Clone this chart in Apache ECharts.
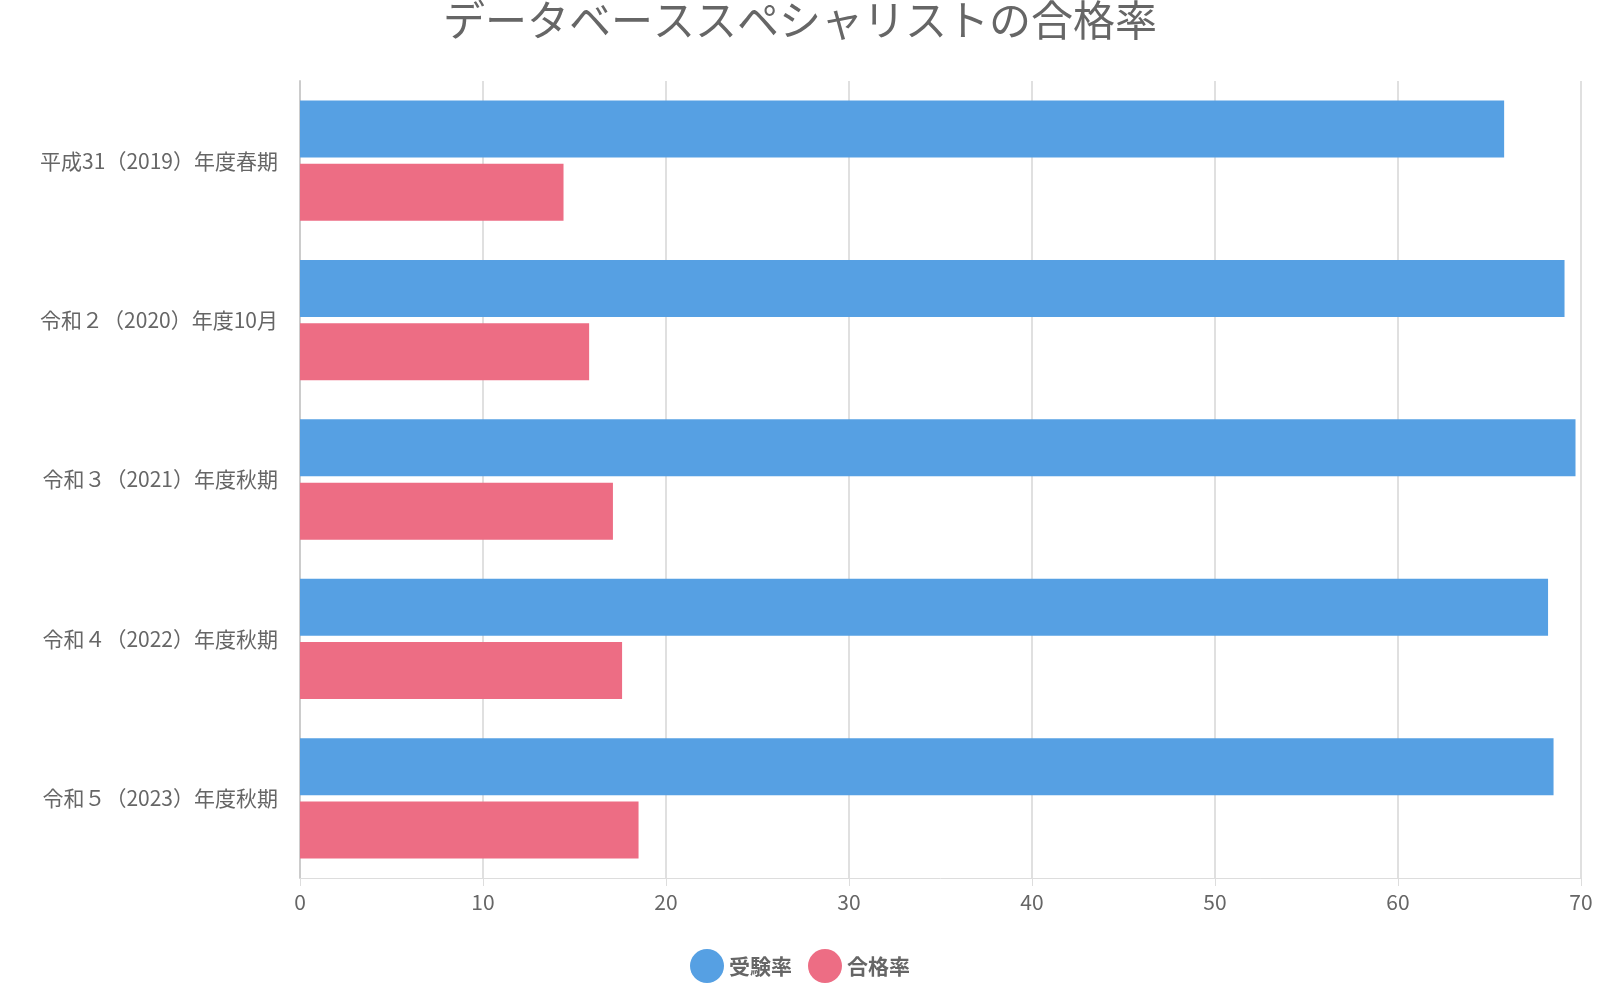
<!DOCTYPE html>
<html><head><meta charset="utf-8">
<script src="https://cdn.jsdelivr.net/npm/echarts@6/dist/echarts.min.js"></script>
<style>html,body{margin:0;background:#fff}#c{width:1600px;height:1000px}</style>
</head><body><div id="c"></div>
<script>
const categories = ['平成31（2019）年度春期','令和２（2020）年度10月','令和３（2021）年度秋期','令和４（2022）年度秋期','令和５（2023）年度秋期'];
const examRate = [65.8, 69.1, 69.7, 68.2, 68.5];
const passRate = [14.4, 15.8, 17.1, 17.6, 18.5];
const xTicks = {min: 0, max: 70, interval: 10};
const font = "'Noto Sans CJK JP', 'Noto Sans', sans-serif";
const chart = echarts.init(document.getElementById('c'));
chart.setOption({
  animation: false,
  textStyle: {fontFamily: font},
  title: {text: 'データベーススペシャリストの合格率', left: 'center', top: -6,
    textStyle: {fontSize: 42, fontWeight: 'normal', color: '#666', fontFamily: font}},
  legend: {bottom: 12, left: 'center', icon: 'circle', itemWidth: 34, itemHeight: 34, itemGap: 16,
    textStyle: {fontSize: 21, fontWeight: 'bold', color: '#666'}},
  grid: {left: 300, right: 19, top: 81, bottom: 122},
  xAxis: {type: 'value', min: xTicks.min, max: xTicks.max, interval: xTicks.interval,
    axisLine: {show: true, lineStyle: {color: '#ddd'}},
    axisTick: {show: true, length: 8, lineStyle: {color: '#ddd'}},
    axisLabel: {fontSize: 21, color: '#666', margin: 14},
    splitLine: {lineStyle: {color: '#e0e0e0', width: 2}}},
  yAxis: {type: 'category', data: categories, inverse: true,
    axisLine: {lineStyle: {color: '#ccc', width: 2}}, axisTick: {show: false},
    axisLabel: {fontSize: 21, color: '#666', margin: 22}},
  series: [
    {name: '受験率', type: 'bar', data: examRate, barWidth: 57, barGap: '11%', itemStyle: {color: '#56a0e3'}},
    {name: '合格率', type: 'bar', data: passRate, barWidth: 57, itemStyle: {color: '#ed6d84'}}
  ]
});
</script></body></html>
